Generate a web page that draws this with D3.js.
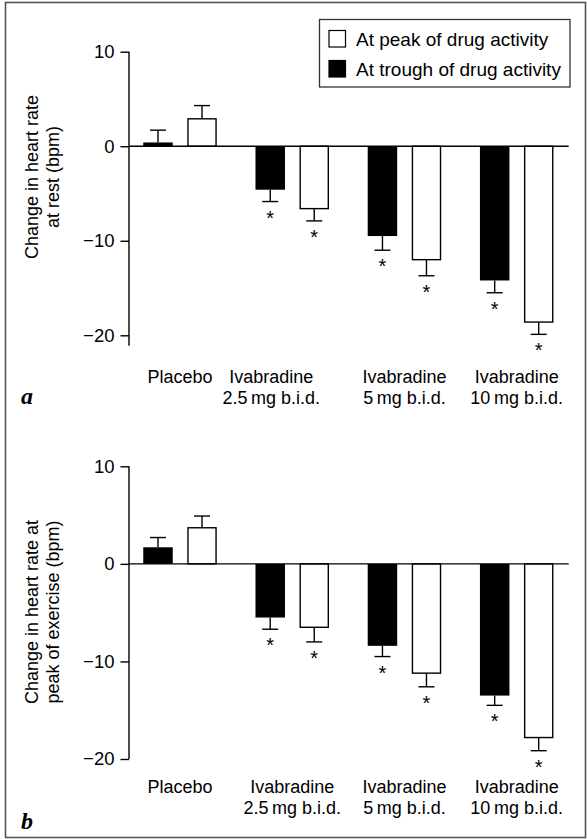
<!DOCTYPE html>
<html>
<head>
<meta charset="utf-8">
<script src="https://cdn.jsdelivr.net/npm/d3@7"></script>
<style>
  html, body { margin: 0; padding: 0; background: #fff; }
  svg { display: block; }
  text { font-family: "Liberation Sans", Arial, Helvetica, sans-serif; fill: #000; }
</style>
</head>
<body>
<svg id="chart" width="587" height="839"></svg>
<script>
// Treatment groups (two-line labels)
const categories = ["Placebo", "Ivabradine 2.5", "Ivabradine 5", "Ivabradine 10"];
const labelLine1 = ["Placebo", "Ivabradine", "Ivabradine", "Ivabradine"];
const labelLine2 = ["", "2.5\u2009mg b.i.d.", "5\u2009mg b.i.d.", "10\u2009mg b.i.d."];
const significant = [false, true, true, true];

// Series keys and legend text
const seriesKeys = ["trough", "peak"];
const legendLabels = ["At peak of drug activity", "At trough of drug activity"];

// Panel a: change in heart rate at rest (bpm), mean and error
const restTrough    = [0.4, -4.6, -9.5, -14.2];
const restTroughErr = [1.3, 1.25, 1.5, 1.3];
const restPeak      = [2.9, -6.6, -12.0, -18.6];
const restPeakErr   = [1.4, 1.3, 1.7, 1.3];

// Panel b: change in heart rate at peak of exercise (bpm)
const exTrough      = [1.7, -5.5, -8.4, -13.5];
const exTroughErr   = [1.0, 1.2, 1.1, 1.0];
const exPeak        = [3.7, -6.5, -11.2, -17.8];
const exPeakErr     = [1.2, 1.5, 1.4, 1.35];

// Axis ticks
const yTicks = [10, 0, -10, -20];

const FS = 18;
const svg = d3.select("#chart");

// outer frame
svg.append("rect")
  .attr("x", 5.5).attr("y", 2.5).attr("width", 580).attr("height", 835)
  .attr("fill", "none").attr("stroke", "#555").attr("stroke-width", 1.6);

const panels = [
  {
    letter: "a", trough: restTrough, troughErr: restTroughErr, peak: restPeak, peakErr: restPeakErr,
    yTop: 51.7, yBottom: 335.3, axisExtend: -21.1,
    title: ["Change in heart rate", "at rest (bpm)"], titleY: 177,
    labelY: 383, labelShift: [0, -21, 0, 0], letterY: 404
  },
  {
    letter: "b", trough: exTrough, troughErr: exTroughErr, peak: exPeak, peakErr: exPeakErr,
    yTop: 466.3, yBottom: 759, axisExtend: -20,
    title: ["Change in heart rate at", "peak of exercise (bpm)"], titleY: 612,
    labelY: 793, labelShift: [0, 0, 0, 0], letterY: 829
  }
];

const axisX = 129;

// group positions along the category axis
const x0 = d3.scaleBand().domain(categories)
  .range([axisX, 567.7]).paddingInner(0.345).paddingOuter(0.127);
const x1 = d3.scaleBand().domain(seriesKeys)
  .range([0, x0.bandwidth()]).paddingInner(0.33).paddingOuter(0);

panels.forEach(p => {
  const y = d3.scaleLinear().domain([-20, 10]).range([p.yBottom, p.yTop]);
  const g = svg.append("g");

  // y axis
  const yAxis = d3.axisLeft(y).tickValues(yTicks).tickSize(8.5).tickPadding(6)
    .tickFormat(d => d < 0 ? "\u2212" + Math.abs(d) : String(d));
  const ag = g.append("g").attr("transform", `translate(${axisX},0)`).call(yAxis);
  ag.select(".domain").remove();
  ag.selectAll(".tick line").attr("stroke", "#000").attr("stroke-width", 1.4);
  ag.selectAll(".tick text").attr("font-size", 18.5).attr("fill", "#000")
    .style("font-family", '"Liberation Sans", Arial, sans-serif');
  g.append("line")
    .attr("x1", axisX).attr("x2", axisX)
    .attr("y1", y(10)).attr("y2", y(p.axisExtend))
    .attr("stroke", "#000").attr("stroke-width", 1.4);

  // rows of data for bars
  const rows = categories.map((c, i) => ({
    cat: c, i,
    bars: [
      { key: "trough", v: p.trough[i], e: p.troughErr[i] },
      { key: "peak", v: p.peak[i], e: p.peakErr[i] }
    ]
  }));

  const bw = x1.bandwidth();
  const groups = g.selectAll(".grp").data(rows).enter().append("g")
    .attr("transform", d => `translate(${x0(d.cat)},0)`);

  const bar = groups.selectAll(".bar").data(d => d.bars.map(b => Object.assign({ sig: significant[d.i] }, b)))
    .enter().append("g");

  bar.append("rect")
    .attr("x", d => x1(d.key) + (d.key === "peak" ? 0.7 : 0))
    .attr("width", d => bw - (d.key === "peak" ? 1.4 : 0))
    .attr("y", d => Math.min(y(d.v), y(0)))
    .attr("height", d => Math.abs(y(d.v) - y(0)))
    .attr("fill", d => d.key === "trough" ? "#000" : "#fff")
    .attr("stroke", "#000").attr("stroke-width", d => d.key === "peak" ? 1.4 : 0);

  // error bars (one-sided, away from zero)
  const errEnd = d => d.v >= 0 ? d.v + d.e : d.v - d.e;
  bar.append("line")
    .attr("x1", d => x1(d.key) + bw / 2).attr("x2", d => x1(d.key) + bw / 2)
    .attr("y1", d => y(d.v)).attr("y2", d => y(errEnd(d)))
    .attr("stroke", "#000").attr("stroke-width", 1.4);
  bar.append("line")
    .attr("x1", d => x1(d.key) + bw / 2 - 8).attr("x2", d => x1(d.key) + bw / 2 + 8)
    .attr("y1", d => y(errEnd(d))).attr("y2", d => y(errEnd(d)))
    .attr("stroke", "#000").attr("stroke-width", 1.4);

  // significance markers
  bar.filter(d => d.sig).append("text")
    .attr("x", d => x1(d.key) + bw / 2)
    .attr("y", d => y(errEnd(d)) + 23)
    .attr("text-anchor", "middle").attr("font-size", 20)
    .text("*");

  // zero line
  g.append("line")
    .attr("x1", axisX).attr("x2", 568.7)
    .attr("y1", y(0)).attr("y2", y(0))
    .attr("stroke", "#000").attr("stroke-width", 1.4);

  // category labels
  const lab = g.selectAll(".cat").data(categories).enter().append("text")
    .attr("text-anchor", "middle").attr("font-size", FS)
    .attr("transform", (c, i) => `translate(${x0(c) + x0.bandwidth() / 2 + p.labelShift[i]},${p.labelY})`);
  lab.append("tspan").attr("x", 0).attr("y", 0).text((c, i) => labelLine1[i]);
  lab.append("tspan").attr("x", 0).attr("y", 20.5).text((c, i) => labelLine2[i]);

  // y axis title
  const t = g.append("text")
    .attr("transform", `translate(38,${p.titleY}) rotate(-90)`)
    .attr("text-anchor", "middle").attr("font-size", 18);
  t.append("tspan").attr("x", 0).attr("y", 0).text(p.title[0]);
  t.append("tspan").attr("x", 0).attr("y", 20.5).text(p.title[1]);

  // panel letter
  g.append("text").attr("x", 21).attr("y", p.letterY)
    .style("font-family", '"Liberation Serif", "DejaVu Serif", serif')
    .attr("font-weight", "bold").attr("font-style", "italic").attr("font-size", 24)
    .text(p.letter);
});

// legend (panel a)
const leg = svg.append("g");
leg.append("rect")
  .attr("x", 319.5).attr("y", 19.5).attr("width", 250.5).attr("height", 67.5)
  .attr("fill", "#fff").attr("stroke", "#333").attr("stroke-width", 1.3);
const legendKeys = ["peak", "trough"];
legendKeys.forEach((k, i) => {
  leg.append("rect")
    .attr("x", 329).attr("y", 30.5 + i * 30).attr("width", 16.5).attr("height", 16.5)
    .attr("fill", k === "trough" ? "#000" : "#fff")
    .attr("stroke", "#000").attr("stroke-width", 1.2);
  leg.append("text")
    .attr("x", 356).attr("y", 45.5 + i * 30)
    .attr("font-size", 19).text(legendLabels[i]);
});
</script>
</body>
</html>
